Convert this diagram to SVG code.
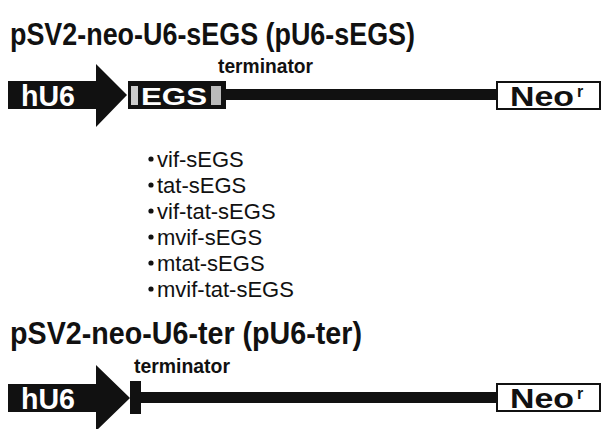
<svg xmlns="http://www.w3.org/2000/svg" width="604" height="429" viewBox="0 0 604 429">
  <style>
    .title { font-family: "Liberation Sans", Arial, sans-serif; font-weight: bold; font-size: 32px; fill: #111; }
    .term { font-family: "Liberation Sans", Arial, sans-serif; font-weight: bold; font-size: 21px; fill: #111; }
    .promoter { font-family: "Liberation Sans", Arial, sans-serif; font-weight: bold; font-size: 29px; fill: #fff; }
    .neo { font-family: "Liberation Sans", Arial, sans-serif; font-weight: bold; font-size: 28px; fill: #111; }
    .sup { font-family: "Liberation Sans", Arial, sans-serif; font-weight: bold; font-size: 16px; fill: #111; }
    .item { font-family: "Liberation Sans", Arial, sans-serif; font-size: 22px; fill: #111; }
    .solid { fill: #111; }
    .box { fill: #fff; stroke: #111; stroke-width: 2; }
  </style>

  <rect width="604" height="429" fill="#fff"/>

  <!-- Construct 1: pU6-sEGS -->
  <text class="title" x="10" y="45" textLength="405" lengthAdjust="spacingAndGlyphs">pSV2-neo-U6-sEGS (pU6-sEGS)</text>
  <text class="term" x="218" y="73" textLength="95" lengthAdjust="spacingAndGlyphs">terminator</text>

  <g id="hU6-1">
    <path class="solid" d="M8,81 H96 V64 L127,95 L96,127 V109 H8 Z"/>
    <text class="promoter" x="21" y="106" textLength="54" lengthAdjust="spacingAndGlyphs">hU6</text>
  </g>

  <g id="egs-1">
    <rect class="solid" x="128" y="81" width="98" height="28"/>
    <rect x="131" y="86" width="7" height="19" fill="#ccc"/>
    <rect x="211" y="86" width="10" height="19" fill="#bbb"/>
    <text x="141" y="105" fill="#fff" font-family="Liberation Sans, Arial, sans-serif" font-weight="bold" font-size="24" textLength="66" lengthAdjust="spacingAndGlyphs">EGS</text>
  </g>

  <g id="neo-1">
    <rect class="box" x="497" y="82" width="103" height="27"/>
    <text class="neo" x="510" y="106" textLength="64" lengthAdjust="spacingAndGlyphs">Neo</text>
    <text class="sup" x="577" y="97">r</text>
  </g>

  <g id="connectors-1">
    <rect class="solid" x="226" y="89" width="272" height="11"/>
  </g>

  <g id="egs-variants">
    <g fill="#111">
      <circle cx="151" cy="159" r="2.6"/>
      <circle cx="151" cy="185" r="2.6"/>
      <circle cx="151" cy="211" r="2.6"/>
      <circle cx="151" cy="237" r="2.6"/>
      <circle cx="151" cy="263" r="2.6"/>
      <circle cx="151" cy="289" r="2.6"/>
    </g>
    <text class="item" x="157" y="167">vif-sEGS</text>
    <text class="item" x="157" y="193">tat-sEGS</text>
    <text class="item" x="157" y="219">vif-tat-sEGS</text>
    <text class="item" x="157" y="245">mvif-sEGS</text>
    <text class="item" x="157" y="271">mtat-sEGS</text>
    <text class="item" x="157" y="297">mvif-tat-sEGS</text>
  </g>

  <!-- Construct 2: pU6-ter -->
  <text class="title" x="10" y="344" textLength="352" lengthAdjust="spacingAndGlyphs">pSV2-neo-U6-ter (pU6-ter)</text>
  <text class="term" x="134" y="373" textLength="96" lengthAdjust="spacingAndGlyphs">terminator</text>

  <g id="hU6-2">
    <path class="solid" d="M8,384 H96 V365 L130,398 L96,431 V412 H8 Z"/>
    <text class="promoter" x="21" y="409" textLength="54" lengthAdjust="spacingAndGlyphs">hU6</text>
  </g>

  <g id="ter-2">
    <rect class="solid" x="130" y="381" width="11" height="33"/>
  </g>

  <g id="neo-2">
    <rect class="box" x="497" y="384" width="103" height="27"/>
    <text class="neo" x="510" y="408" textLength="64" lengthAdjust="spacingAndGlyphs">Neo</text>
    <text class="sup" x="577" y="399">r</text>
  </g>

  <g id="connectors-2">
    <rect class="solid" x="141" y="392" width="357" height="11"/>
  </g>
</svg>
